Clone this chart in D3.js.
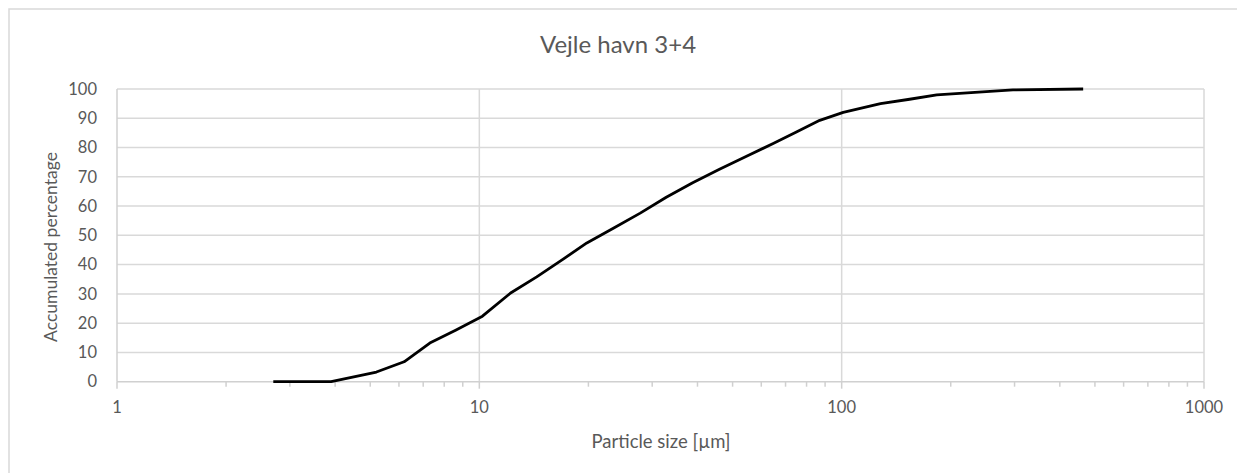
<!DOCTYPE html>
<html>
<head>
<meta charset="utf-8">
<script src="https://cdn.jsdelivr.net/npm/d3@7"></script>
<style>
  html, body { margin: 0; padding: 0; background: #fff; }
  svg { display: block; }
  text { font-family: Lato, "Open Sans", sans-serif; fill: #595959; }
</style>
</head>
<body>
<svg id="chart" width="1237" height="473"></svg>
<script>
const title = "Vejle havn 3+4";
const xLabel = "Particle size [µm]";
const yLabel = "Accumulated percentage";
const sizes = [2.7, 3.9, 5.2, 6.2, 7.3, 8.6, 10.2, 12.2, 14.4, 17, 19.8, 23.5, 27.8, 32.8, 38.8, 46, 55, 64.5, 75, 87, 101, 128, 154, 183, 297, 464];
const percentages = [0, 0, 3.3, 6.8, 13.2, 17.6, 22.4, 30.3, 35.8, 41.8, 47.4, 52.5, 57.6, 63, 68, 72.6, 77.2, 81.3, 85.3, 89.3, 92, 95, 96.5, 98, 99.7, 100];
const xTicks = [1, 10, 100, 1000];
const yTicks = [0, 10, 20, 30, 40, 50, 60, 70, 80, 90, 100];

const svg = d3.select("#chart");
const pLeft = 117, pRight = 1204, pTop = 89, pBottom = 381.7;

svg.append("rect").attr("x", 9).attr("y", 9).attr("width", 1240).attr("height", 480)
  .attr("fill", "none").attr("stroke", "#d9d9d9").attr("stroke-width", 1.5);

const x = d3.scaleLog().domain([1, 1000]).range([pLeft, pRight]);
const y = d3.scaleLinear().domain([0, 100]).range([pBottom, pTop]);

// horizontal gridlines
svg.append("g").selectAll("line").data(yTicks.filter(d => d > 0)).join("line")
  .attr("x1", pLeft).attr("x2", pRight)
  .attr("y1", d => y(d)).attr("y2", d => y(d))
  .attr("stroke", "#d9d9d9").attr("stroke-width", 1.5);
// vertical gridlines at decades
svg.append("g").selectAll("line").data(xTicks.filter(d => d > 1)).join("line")
  .attr("x1", d => x(d)).attr("x2", d => x(d))
  .attr("y1", pTop).attr("y2", pBottom)
  .attr("stroke", "#d9d9d9").attr("stroke-width", 1.5);

// minor/major tick marks
const allTicks = [];
for (let dec = 1; dec < 1000; dec *= 10) for (let m = 1; m < 10; m++) allTicks.push(dec * m);
allTicks.push(1000);
svg.append("g").selectAll("line").data(allTicks).join("line")
  .attr("x1", d => x(d)).attr("x2", d => x(d))
  .attr("y1", pBottom).attr("y2", d => xTicks.includes(d) ? pBottom + 7 : pBottom + 5)
  .attr("stroke", "#d0d0d0").attr("stroke-width", 1.5);

// axes lines
svg.append("line").attr("x1", pLeft).attr("x2", pRight).attr("y1", pBottom).attr("y2", pBottom)
  .attr("stroke", "#d0d0d0").attr("stroke-width", 1.5);
svg.append("line").attr("x1", pLeft).attr("x2", pLeft).attr("y1", pTop).attr("y2", pBottom)
  .attr("stroke", "#d0d0d0").attr("stroke-width", 1.5);

// y tick labels
svg.append("g").selectAll("text").data(yTicks).join("text")
  .attr("x", 97).attr("y", d => y(d)).attr("dy", "0.35em")
  .attr("text-anchor", "end").attr("font-size", 16.5).text(d => d);
// x tick labels
svg.append("g").selectAll("text").data(xTicks).join("text")
  .attr("x", d => x(d)).attr("y", 407).attr("dy", "0.35em")
  .attr("text-anchor", "middle").attr("font-size", 16.5).text(d => d);

// line
const line = d3.line().x((d, i) => x(sizes[i])).y(d => y(d));
svg.append("path").datum(percentages).attr("d", line)
  .attr("fill", "none").attr("stroke", "#000").attr("stroke-width", 2.8)
  .attr("stroke-linejoin", "round");

// titles
svg.append("text").attr("x", 618).attr("y", 45).attr("dy", "0.35em")
  .attr("text-anchor", "middle").attr("font-size", 24).text(title);
svg.append("text").attr("x", 661).attr("y", 442).attr("dy", "0.35em")
  .attr("text-anchor", "middle").attr("font-size", 18.5).text(xLabel);
svg.append("text").attr("transform", "translate(51,247) rotate(-90)").attr("dy", "0.35em")
  .attr("text-anchor", "middle").attr("font-size", 17.5).text(yLabel);
</script>
</body>
</html>
